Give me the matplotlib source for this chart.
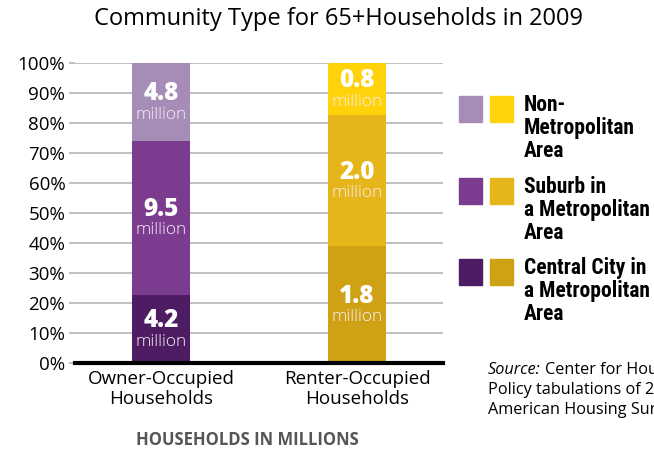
import matplotlib.pyplot as plt
from matplotlib.patches import Rectangle

# data (millions of households, 65+ in 2009)
groups = ['Owner-Occupied\nHouseholds', 'Renter-Occupied\nHouseholds']
community_types = ['Central City in\na Metropolitan\nArea', 'Suburb in\na Metropolitan\nArea',
                   'Non-\nMetropolitan\nArea']
owner_vals = [4.2, 9.5, 4.8]
renter_vals = [1.8, 2.0, 0.8]
owner_colors = ['#4e1c62', '#7b3b8e', '#a68db8']
renter_colors = ['#cfa216', '#e6b51a', '#ffd20a']

plt.rcParams['font.family'] = ['Open Sans', 'DejaVu Sans']

fig = plt.figure(figsize=(6.54, 4.49), dpi=100)
ax = fig.add_axes([75 / 654, 1 - 363 / 449, 368 / 654, 300 / 449])

width = 0.296
for i, (vals, cols) in enumerate([(owner_vals, owner_colors), (renter_vals, renter_colors)]):
    total = sum(vals)
    bottom = 0
    for v, c in zip(vals, cols):
        h = v / total * 100
        ax.bar(i, h, width=width, bottom=bottom, color=c, zorder=3)
        mid = bottom + h / 2
        ax.text(i, mid + 2.7, f'{v:.1f}', ha='center', va='center', color='white',
                fontsize=17.5, fontweight='heavy', zorder=4)
        ax.text(i, mid - 4.2, 'million', ha='center', va='center', color='#f5eef5',
                fontsize=12.5, fontweight='light', zorder=4)
        bottom += h

ax.set_xlim(-0.439, 1.439)
ax.set_ylim(0, 100)
ax.set_yticks(range(0, 101, 10))
ax.set_yticklabels([f'{t}%' for t in range(0, 101, 10)], fontsize=13.5)
ax.set_xticks([0, 1])
ax.set_xticklabels(groups, fontsize=13.5, linespacing=1.12)
ax.tick_params(axis='y', length=4, color='#bbbbbb', width=1.3, pad=3)
ax.tick_params(axis='x', length=0, pad=5)
ax.yaxis.grid(True, color='#c0c0c0', linewidth=1.4, zorder=0)
for s in ['left', 'right', 'top']:
    ax.spines[s].set_visible(False)
ax.spines['bottom'].set_linewidth(3)
ax.spines['bottom'].set_zorder(5)

fig.text(339 / 654, 1 - 19 / 449, 'Community Type for 65+Households in 2009', ha='center',
         va='center', fontsize=17)
fig.text(247 / 654, 1 - 440 / 449, 'HOUSEHOLDS IN MILLIONS', ha='center', va='center',
         fontsize=12, fontweight='bold', color='#555555')

# legend built by hand: two swatches per community type
legend_font = ['Roboto Condensed', 'Roboto', 'DejaVu Sans']
for label, oc, rc, top in zip(community_types, owner_colors, renter_colors, [259, 178, 96]):
    for x0, col in [(459, oc), (490, rc)]:
        fig.patches.append(Rectangle((x0 / 654, 1 - (top + 26) / 449), 23 / 654, 26 / 449,
                                     transform=fig.transFigure, color=col))
    fig.text(524 / 654, 1 - (top - 2) / 449, label, ha='left', va='top', fontsize=15.5,
             fontweight='bold', family=legend_font, linespacing=1.05)

src = fig.text(488 / 654, 1 - 370 / 449, 'Source:', ha='left', va='center', fontsize=11.7,
               style='italic')
plt.annotate('Center for Housing', xy=(1, 0.5), xycoords=src, xytext=(3, 0),
             textcoords='offset points', ha='left', va='center', fontsize=11.7)
fig.text(488 / 654, 1 - 390 / 449, 'Policy tabulations of 2009', ha='left', va='center',
         fontsize=11.7)
fig.text(488 / 654, 1 - 410 / 449, 'American Housing Survey', ha='left', va='center',
         fontsize=11.7)

plt.savefig('out.png')
